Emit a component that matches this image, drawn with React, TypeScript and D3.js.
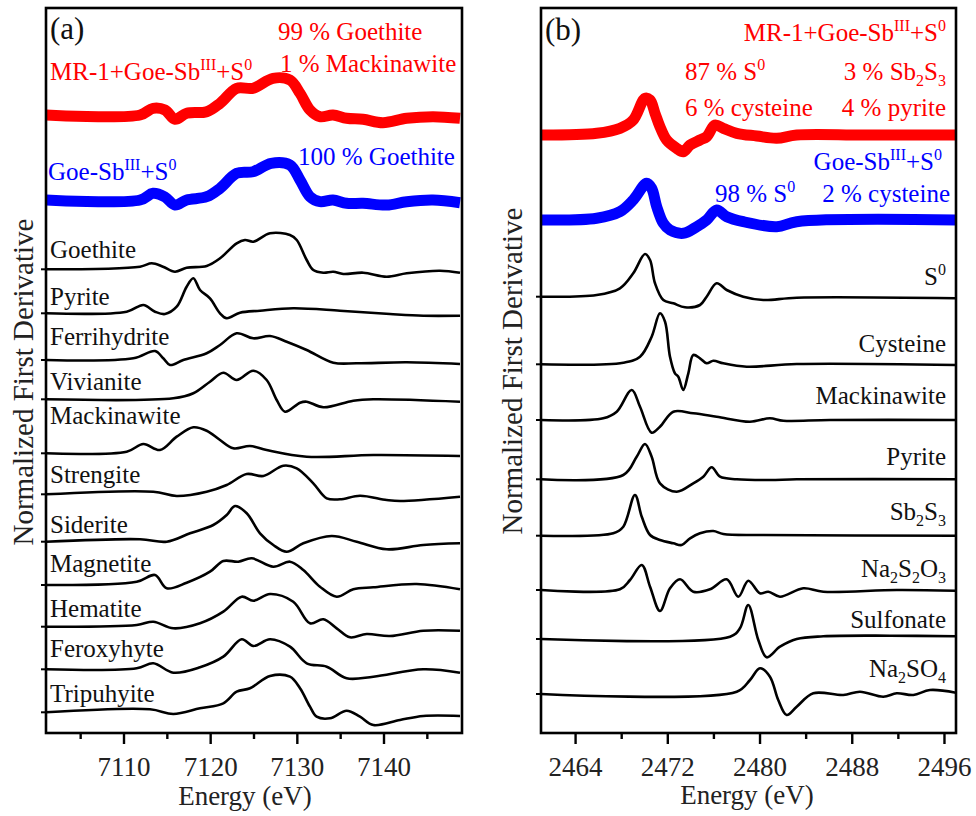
import React from "react";
import * as d3 from "d3";

// ---------------- Panel (a): Fe K-edge, [energy eV, derivative a.u.] ----------------
const aMR1 = [[7101,0],[7111.85,0],[7113.35,0.67],[7114.73,0.5],[7115.88,-0.43],[7117.23,0.17],[7119.54,0.33],[7121.08,1.17],[7123.0,2.67],[7124.88,2.67],[7127.19,3.67],[7129.15,3.5],[7130.31,2.17],[7131.46,0.5],[7132.61,-0.17],[7134.11,0],[7135.69,-0.33],[7137.58,-0.43],[7139.88,-0.77],[7142.62,-0.33],[7145.65,-0.17],[7148.77,-0.33]];
const aGoeSb = [[7101,0],[7111.85,0],[7113.35,0.67],[7114.73,0.3],[7115.88,-0.5],[7117.23,0],[7119.54,0.33],[7121.08,1.17],[7123.0,2.67],[7124.88,2.83],[7126.97,3.67],[7129.15,3.5],[7130.31,2.0],[7131.46,0.33],[7132.61,-0.17],[7134.11,0],[7135.69,-0.33],[7137.58,-0.33],[7140.3,-0.5],[7142.62,-0.17],[7145.65,0],[7148.77,-0.27]];
const aGoethite = [[7101,0],[7111.85,0.26],[7113.2,0.6],[7114.5,0.26],[7115.88,-0.24],[7117.23,0.16],[7119.54,0.33],[7121.08,1.1],[7123.0,2.6],[7123.96,2.93],[7124.92,2.76],[7126.85,3.6],[7129.15,3.43],[7129.93,2.93],[7131.08,0.93],[7131.84,-0.07],[7133.0,-0.34],[7134.15,-0.24],[7135.3,-0.47],[7137.61,-0.34],[7140.31,-0.74],[7142.62,-0.4],[7146.46,-0.14],[7148.77,-0.34]];
const aPyrite = [[7101,0],[7110.31,0.16],[7112.23,0.83],[7113.58,0.16],[7114.73,-0.07],[7116.08,0.66],[7117.23,2.66],[7118.0,3.5],[7118.77,2.33],[7119.92,1.5],[7121.08,0],[7121.85,-0.5],[7123.38,0.06],[7125.69,0.26],[7129.53,0.5],[7134.92,0.26],[7140.69,-0.07],[7144.53,-0.24],[7148.77,-0.24]];
const aFerrihydrite = [[7101,0],[7111.07,0.17],[7113.58,0.9],[7114.53,0.17],[7115.31,-0.5],[7116.84,0],[7119.54,0.67],[7121.08,1.5],[7123.0,2.67],[7124.92,2.17],[7126.85,2.4],[7128.77,1.83],[7131.08,1.0],[7134.15,-0.27],[7136.85,-0.33],[7142.62,-0.23],[7148.77,-0.4]];
const aVivianite = [[7101,0],[7115.69,0.1],[7118.0,0.6],[7119.92,1.76],[7121.46,2.66],[7123.0,1.93],[7124.92,2.86],[7126.46,1.93],[7127.62,-0.07],[7128.58,-1.24],[7130.31,-0.34],[7131.08,-0.24],[7133.0,-0.8],[7136.46,-0.14],[7138.77,0],[7148.77,-0.24]];
const aMackinawite = [[7101,0],[7110.31,0.16],[7112.23,0.93],[7114.15,0.33],[7116.08,1.66],[7118.0,2.6],[7119.54,2.26],[7121.08,1.33],[7122.61,0.5],[7124.54,0.73],[7126.46,0.33],[7131.08,-0.34],[7138.77,-0.17],[7148.77,-0.27]];
const aStrengite = [[7101,0],[7113.38,0.26],[7116.08,-0.17],[7119.54,0.26],[7121.85,0.93],[7124.16,2.03],[7126.08,1.83],[7128.38,2.86],[7129.93,2.6],[7131.84,1.1],[7133.39,-0.4],[7134.92,-0.5],[7137.23,-0.14],[7140.31,-0.57],[7141.85,-0.67],[7148.77,-0.24]];
const aSiderite = [[7101,0],[7111.85,0.24],[7114.93,0],[7117.62,0.84],[7120.3,1.67],[7121.85,2.67],[7122.81,3.57],[7124.16,2.84],[7125.69,0.84],[7127.23,-0.33],[7128.77,-1.0],[7130.69,-0.16],[7133.96,0.57],[7136.85,0],[7140.31,-0.76],[7144.53,-0.33],[7148.77,-0.16]];
const aMagnetite = [[7101,0],[7111.47,0.33],[7113.58,1.0],[7114.93,-0.33],[7117.23,0.23],[7119.92,1.33],[7121.46,2.4],[7123.19,2.33],[7124.73,2.67],[7127.23,1.83],[7129.15,2.33],[7130.69,1.5],[7132.61,-0.17],[7134.54,-1.17],[7136.46,-0.43],[7138.77,-0.23],[7143.77,0.1],[7148.77,-0.43]];
const aHematite = [[7101,0],[7111.47,0.17],[7113.38,0.5],[7115.69,-0.16],[7118.77,0.34],[7121.46,1.5],[7123.58,3.0],[7124.92,2.6],[7126.85,3.27],[7129.53,2.5],[7131.46,0.34],[7133.0,0.74],[7134.54,-0.16],[7136.08,-1.06],[7138.0,-0.73],[7140.69,-0.93],[7144.53,-0.4],[7148.77,-0.4]];
const aFeroxyhyte = [[7101,0],[7111.47,0.1],[7113.38,0.6],[7115.69,-0.34],[7118.77,0.2],[7121.46,1.26],[7123.58,3.0],[7124.92,2.33],[7126.85,3.0],[7129.15,2.26],[7131.08,0.6],[7133.39,0.26],[7135.69,-0.9],[7138.77,-0.74],[7144.53,0],[7148.77,-0.34]];
const aTripuhyite = [[7101,0],[7113.0,0.3],[7115.69,-0.17],[7118.77,0.4],[7121.46,0.9],[7123.0,2.06],[7124.54,2.4],[7126.85,3.63],[7129.15,3.56],[7130.31,2.4],[7131.46,0.56],[7132.23,-0.44],[7133.77,-0.6],[7135.69,0.16],[7137.23,-0.44],[7138.77,-1.27],[7141.85,-0.77],[7144.53,-0.37],[7148.77,-0.37]];

const aRefNames = ["Goethite","Pyrite","Ferrihydrite","Vivianite","Mackinawite","Strengite","Siderite","Magnetite","Hematite","Feroxyhyte","Tripuhyite"];
const aRefOffsets = [46.37,41.97,37.3,33.37,27.97,23.87,19.13,14.8,10.63,6.37,2.07];
const aLabelOffsets = [47.5,42.8,38.8,34.3,30.9,25.0,20.0,16.1,11.6,7.6,3.1];
const aSampleOffsets = [61.8,53.3];
const aMajorTicks = [7110,7120,7130,7140];
const aMinorTicks = [7105,7115,7125,7135,7145];

// ---------------- Panel (b): S K-edge ----------------
const bMR1 = [[2461,0],[2465.83,0.17],[2467.85,0.67],[2469.0,1.5],[2470.02,3.67],[2470.46,3.5],[2470.89,2.17],[2471.32,0.83],[2471.9,-0.5],[2472.77,-1.33],[2473.34,-1.67],[2473.93,-1.0],[2474.79,-0.5],[2475.37,-0.17],[2476.09,1.0],[2476.81,0.67],[2477.98,0.17],[2479.71,-0.1],[2481.45,-0.33],[2483.18,0],[2488.96,0],[2497,0]];
const bGoeSb = [[2461,0],[2465.83,0.17],[2467.85,0.83],[2469.0,2.0],[2470.17,3.67],[2470.6,3.17],[2471.04,1.33],[2471.61,-0.33],[2472.19,-1.0],[2473.34,-1.33],[2474.51,-0.67],[2475.37,0],[2476.24,1.0],[2477.11,0.33],[2478.55,-0.17],[2481.45,-0.67],[2483.18,-0.17],[2497,0]];
const bS0 = [[2461,0],[2465.83,0.17],[2467.85,0.84],[2469.0,2.34],[2470.02,4.27],[2470.46,3.67],[2470.89,1.34],[2471.61,-0.33],[2472.48,-0.66],[2473.49,-1.06],[2474.79,-0.83],[2475.37,0],[2476.24,1.34],[2477.11,0.67],[2478.55,0],[2480.28,-0.33],[2483.18,-0.1],[2497,-0.16]];
const bCysteine = [[2461,0],[2468.14,0.16],[2469.59,0.76],[2470.6,2.76],[2471.32,5.1],[2471.76,4.26],[2472.19,0.76],[2472.62,-0.9],[2472.91,-1.24],[2473.34,-2.57],[2473.78,-0.9],[2474.21,0.93],[2474.79,0.6],[2475.37,0.1],[2475.95,0.36],[2476.81,0.1],[2478.84,-0.24],[2483.18,0.03],[2497,-0.07]];
const bMackinawite = [[2461,0],[2466.4,0.17],[2467.57,0.83],[2468.87,3.0],[2469.59,1.33],[2470.6,-1.27],[2471.32,-0.67],[2472.48,0.83],[2474.21,0.67],[2476.24,0.33],[2479.13,-0.17],[2480.86,0.17],[2482.02,-0.07],[2486.07,0],[2497,0]];
const bPyrite = [[2461,0],[2468.14,0.43],[2469.3,2.26],[2470.02,3.53],[2470.6,2.26],[2471.32,-0.4],[2472.77,-1.24],[2474.21,-0.4],[2475.08,0.26],[2475.81,1.2],[2476.53,0.26],[2477.98,0],[2480.86,-0.07],[2483.18,0],[2497,0]];
const bSb2S3 = [[2461,0],[2467.27,0.24],[2468.14,0.9],[2469.15,4.07],[2469.74,1.9],[2470.46,0.07],[2471.32,-0.43],[2472.48,-0.76],[2473.2,-0.93],[2473.93,-0.26],[2474.79,0.24],[2475.95,0.47],[2476.81,0.17],[2480.28,0.07],[2497,0]];
const bNa2S2O3 = [[2461,0],[2467.85,0.07],[2468.72,1.0],[2469.74,2.5],[2470.46,0.33],[2471.32,-2.1],[2472.19,0.17],[2473.06,1.07],[2474.21,-0.17],[2475.66,0.07],[2477.11,1.07],[2478.12,-0.67],[2478.98,0.93],[2479.99,-0.33],[2480.72,-0.17],[2481.73,-0.67],[2483.75,0.17],[2485.49,-0.17],[2491.86,0],[2497,-0.07]];
const bSulfonate = [[2461,0],[2477.4,0.23],[2478.26,1.07],[2478.98,3.4],[2479.85,-0.1],[2480.58,-1.83],[2481.73,-0.77],[2483.18,0],[2485.49,0.27],[2491.27,0.33],[2497,0.27]];
const bNa2SO4 = [[2461,0],[2477.98,0.23],[2479.13,1.4],[2479.99,2.57],[2480.86,1.73],[2481.58,-0.6],[2482.31,-2.1],[2483.18,-1.27],[2484.62,0.07],[2487.22,-0.1],[2488.67,0.23],[2490.69,-0.27],[2491.86,0.07],[2493.3,-0.1],[2494.74,0.4],[2497,0.13]];

const bRefLabels = [
  [{ t: "S" }, { t: "0", sup: true }],
  [{ t: "Cysteine" }],
  [{ t: "Mackinawite" }],
  [{ t: "Pyrite" }],
  [{ t: "Sb" }, { t: "2", sub: true }, { t: "S" }, { t: "3", sub: true }],
  [{ t: "Na" }, { t: "2", sub: true }, { t: "S" }, { t: "2", sub: true }, { t: "O" }, { t: "3", sub: true }],
  [{ t: "Sulfonate" }],
  [{ t: "Na" }, { t: "2", sub: true }, { t: "SO" }, { t: "4", sub: true }],
];
const bRefOffsets = [43.63,36.87,31.3,25.37,19.73,14.3,9.4,3.9];
const bLabelOffsets = [44.8,38.1,32.9,26.8,21.3,15.6,10.5,5.6];
const bSampleOffsets = [59.8,51.3];
const bMajorTicks = [2464,2472,2480,2488,2496];
const bMinorTicks = [2468,2476,2484,2492];

const FONT = '"Liberation Serif", "Times New Roman", Times, serif';
const RED = "#ff0000";
const BLUE = "#0000ff";

type Seg = { t: string; sup?: boolean; sub?: boolean };

function Rich({ x, y, segs, size, fill, anchor }: { x: number; y: number; segs: Seg[]; size: number; fill: string; anchor?: string }) {
  const small = size * 0.64;
  let cur = 0;
  const parts = segs.map((s, i) => {
    const target = s.sup ? -size * 0.42 : s.sub ? size * 0.24 : 0;
    const dy = target - cur;
    cur = target;
    return (
      <tspan key={i} dy={dy} fontSize={s.sup || s.sub ? small : size}>
        {s.t}
      </tspan>
    );
  });
  return (
    <text x={x} y={y} fill={fill} fontFamily={FONT} fontSize={size} textAnchor={anchor || "start"}>
      {parts}
    </text>
  );
}

function Panel({ left, right, top, bottom, domain, major, minor, refs, samples, id, children }: any) {
  const x = d3.scaleLinear().domain(domain).range([left, right]);
  const y = d3.scaleLinear().domain([0, 72.5]).range([bottom, top]);
  const mk = (off: number) =>
    d3.line<number[]>().x((d) => x(d[0])).y((d) => y(d[1] + off)).curve(d3.curveCatmullRom.alpha(0.5));
  return (
    <g>
      <defs>
        <clipPath id={id}>
          <rect x={left} y={top} width={right - left} height={bottom - top} />
        </clipPath>
      </defs>
      <g clipPath={`url(#${id})`}>
        {samples.map((s: any, i: number) => (
          <path key={"s" + i} d={mk(s.off)(s.data) || ""} fill="none" stroke={s.color} strokeWidth={11} strokeLinejoin="round" />
        ))}
        {refs.map((r: any, i: number) => (
          <path key={"r" + i} d={mk(r.off)(r.data) || ""} fill="none" stroke="#000" strokeWidth={2.6} strokeLinejoin="round" />
        ))}
      </g>
      {refs.map((r: any, i: number) => (
        <line key={"yt" + i} x1={left - 5} x2={left} y1={y(r.off + r.data[0][1])} y2={y(r.off + r.data[0][1])} stroke="#000" strokeWidth={2} />
      ))}
      <rect x={left} y={top} width={right - left} height={bottom - top} fill="none" stroke="#000" strokeWidth={2.6} />
      {major.map((t: number) => (
        <g key={"M" + t}>
          <line x1={x(t)} x2={x(t)} y1={bottom} y2={bottom + 11} stroke="#000" strokeWidth={2.4} />
          <text x={x(t)} y={bottom + 43} textAnchor="middle" fontFamily={FONT} fontSize={27} fill="#222">
            {t}
          </text>
        </g>
      ))}
      {minor.map((t: number) => (
        <line key={"m" + t} x1={x(t)} x2={x(t)} y1={bottom} y2={bottom + 6} stroke="#000" strokeWidth={2.4} />
      ))}
      {children({ x, y })}
    </g>
  );
}

export default function App() {
  const aRefsData = [aGoethite, aPyrite, aFerrihydrite, aVivianite, aMackinawite, aStrengite, aSiderite, aMagnetite, aHematite, aFeroxyhyte, aTripuhyite];
  const aRefs = aRefsData.map((d, i) => ({ data: d, off: aRefOffsets[i] }));
  const aSamples = [
    { data: aMR1, off: aSampleOffsets[0], color: RED },
    { data: aGoeSb, off: aSampleOffsets[1], color: BLUE },
  ];
  const bRefsData = [bS0, bCysteine, bMackinawite, bPyrite, bSb2S3, bNa2S2O3, bSulfonate, bNa2SO4];
  const bRefs = bRefsData.map((d, i) => ({ data: d, off: bRefOffsets[i] }));
  const bSamples = [
    { data: bMR1, off: bSampleOffsets[0], color: RED },
    { data: bGoeSb, off: bSampleOffsets[1], color: BLUE },
  ];
  const mrSegs: Seg[] = [{ t: "MR-1+Goe-Sb" }, { t: "III", sup: true }, { t: "+S" }, { t: "0", sup: true }];
  const goeSegs: Seg[] = [{ t: "Goe-Sb" }, { t: "III", sup: true }, { t: "+S" }, { t: "0", sup: true }];

  return (
    <svg width={976} height={816} style={{ position: "absolute", left: 0, top: 0, background: "#fff" }}>
      <rect x={0} y={0} width={976} height={816} fill="#fff" />
      <Panel left={46} right={462} top={8} bottom={733} domain={[7101, 7149]} major={aMajorTicks} minor={aMinorTicks} refs={aRefs} samples={aSamples} id="clipA">
        {({ y }: any) => (
          <g>
            {aRefNames.map((n, i) => (
              <text key={n} x={50} y={y(aLabelOffsets[i])} fontFamily={FONT} fontSize={25} fill="#111">
                {n}
              </text>
            ))}
            <text x={50} y={39} fontFamily={FONT} fontSize={31} fill="#111">(a)</text>
            <Rich x={50} y={80} segs={mrSegs} size={25} fill={RED} />
            <text x={278} y={40} fontFamily={FONT} fontSize={25} fill={RED}>99 % Goethite</text>
            <text x={280} y={72} fontFamily={FONT} fontSize={25} fill={RED}>1 % Mackinawite</text>
            <Rich x={48} y={180} segs={goeSegs} size={25} fill={BLUE} />
            <text x={298} y={165} fontFamily={FONT} fontSize={25} fill={BLUE}>100 % Goethite</text>
            <text x={245} y={805} textAnchor="middle" fontFamily={FONT} fontSize={27} fill="#222">Energy (eV)</text>
            <text transform="translate(33,382) rotate(-90)" textAnchor="middle" fontFamily={FONT} fontSize={29} fill="#222">Normalized First Derivative</text>
          </g>
        )}
      </Panel>
      <Panel left={541} right={956} top={8} bottom={733} domain={[2461, 2497]} major={bMajorTicks} minor={bMinorTicks} refs={bRefs} samples={bSamples} id="clipB">
        {({ y }: any) => (
          <g>
            {bRefLabels.map((segs, i) => (
              <Rich key={i} x={946} y={y(bLabelOffsets[i])} segs={segs as Seg[]} size={25} fill="#111" anchor="end" />
            ))}
            <text x={545} y={40} fontFamily={FONT} fontSize={31} fill="#111">(b)</text>
            <Rich x={946} y={41} segs={mrSegs} size={25} fill={RED} anchor="end" />
            <Rich x={685} y={80} segs={[{ t: "87 % S" }, { t: "0", sup: true }]} size={25} fill={RED} />
            <Rich x={946} y={80} segs={[{ t: "3 % Sb" }, { t: "2", sub: true }, { t: "S" }, { t: "3", sub: true }]} size={25} fill={RED} anchor="end" />
            <text x={685} y={116} fontFamily={FONT} fontSize={25} fill={RED}>6 % cysteine</text>
            <text x={946} y={116} textAnchor="end" fontFamily={FONT} fontSize={25} fill={RED}>4 % pyrite</text>
            <Rich x={942} y={170} segs={goeSegs} size={25} fill={BLUE} anchor="end" />
            <Rich x={715} y={202} segs={[{ t: "98 % S" }, { t: "0", sup: true }]} size={25} fill={BLUE} />
            <text x={950} y={202} textAnchor="end" fontFamily={FONT} fontSize={25} fill={BLUE}>2 % cysteine</text>
            <text x={747} y={804} textAnchor="middle" fontFamily={FONT} fontSize={27} fill="#222">Energy (eV)</text>
            <text transform="translate(522,371) rotate(-90)" textAnchor="middle" fontFamily={FONT} fontSize={29} fill="#222">Normalized First Derivative</text>
          </g>
        )}
      </Panel>
    </svg>
  );
}
